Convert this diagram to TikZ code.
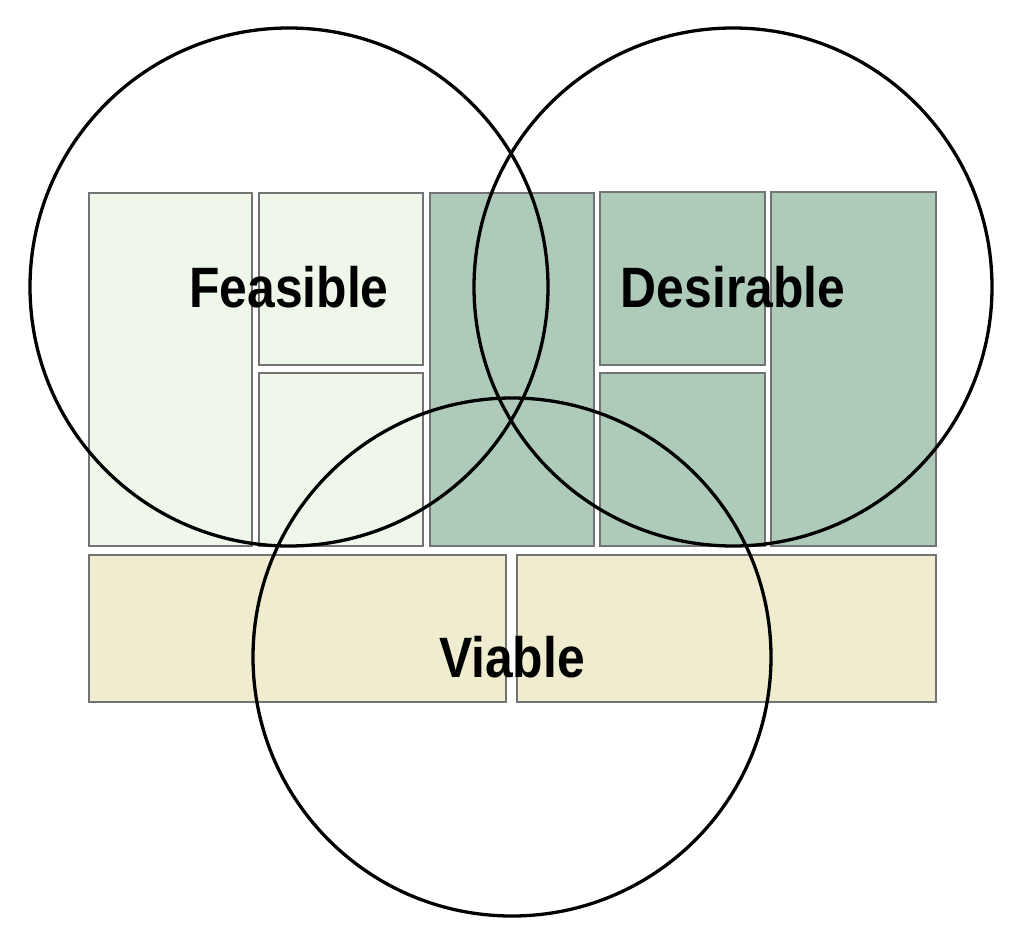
\documentclass[tikz,border=0pt]{standalone}
\usepackage{fontspec}
\setmainfont{Liberation Sans}[FakeStretch=0.875]
\usepackage{tikz}
\usetikzlibrary{shapes}

\definecolor{feasgreen}{HTML}{EEF7EA}
\definecolor{desgreen}{HTML}{AECBBA}
\definecolor{viabeige}{HTML}{EFECCF}

\begin{document}
\begin{tikzpicture}[x=0.1mm,y=-0.1mm]
   \useasboundingbox (0,0) rectangle (1024,946);
   \tikzstyle{box}=[draw=black!55, line width=0.15mm]
   \tikzstyle{ring}=[circle, draw=black, line width=0.33mm, minimum size=51.8mm, inner sep=0pt, font=\fontsize{16.2}{19}\selectfont\bfseries]
   % feasible blocks
   \foreach \xa/\ya/\xb/\yb in {89/193/252/546,259/193/423/365,259/373/423/546} {
       \draw[box, fill=feasgreen] (\xa,\ya) rectangle (\xb,\yb);
   }
   % desirable blocks
   \foreach \xa/\ya/\xb/\yb in {430/193/594/546,600/192/765/365,600/373/765/546,771/192/936/546} {
       \draw[box, fill=desgreen] (\xa,\ya) rectangle (\xb,\yb);
   }
   % viable blocks
   \foreach \xa/\ya/\xb/\yb in {89/555/506/702,517/555/936/702} {
       \draw[box, fill=viabeige] (\xa,\ya) rectangle (\xb,\yb);
   }
   \node[ring] (feasible) at (289,287) {Feasible};
   \node[ring] (desirable) at (733,287) {Desirable};
   \node[ring] (viable) at (512,657) {Viable};
\end{tikzpicture}
\end{document}
